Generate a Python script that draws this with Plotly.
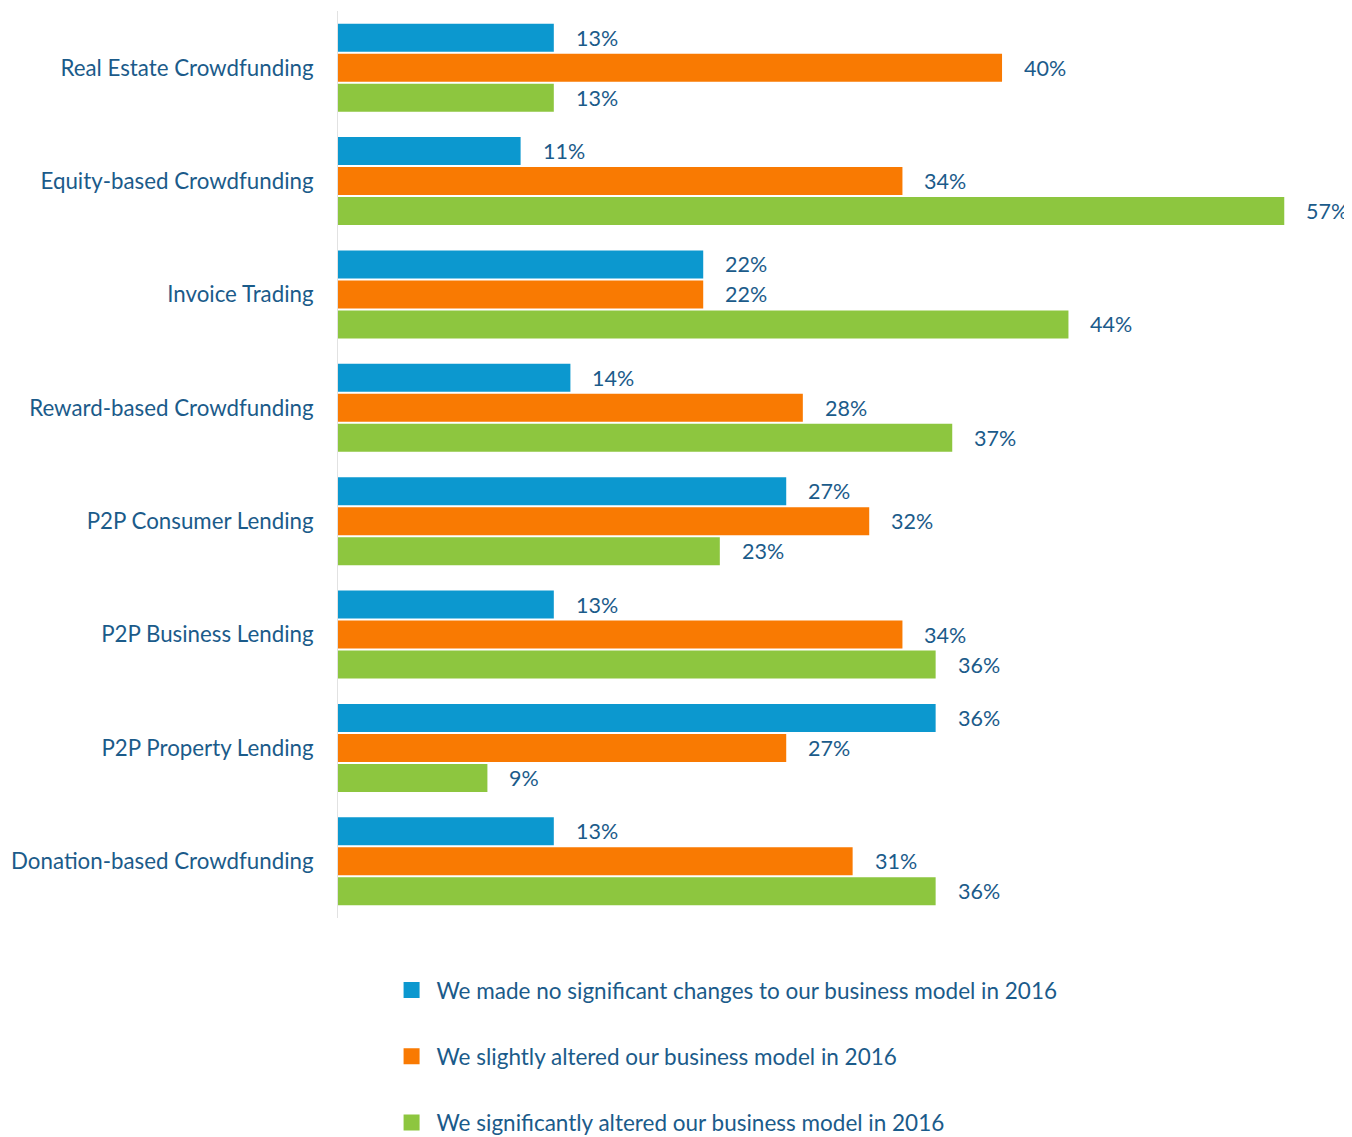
import plotly.graph_objects as go

categories = [
    "Real Estate Crowdfunding",
    "Equity-based Crowdfunding",
    "Invoice Trading",
    "Reward-based Crowdfunding",
    "P2P Consumer Lending",
    "P2P Business Lending",
    "P2P Property Lending",
    "Donation-based Crowdfunding",
]
no_change = [13, 11, 22, 14, 27, 13, 36, 13]
slightly = [40, 34, 22, 28, 32, 34, 27, 31]
significantly = [13, 57, 44, 37, 23, 36, 9, 36]

series_names = [
    "We made no significant changes to our business model in 2016",
    "We slightly altered our business model in 2016",
    "We significantly altered our business model in 2016",
]
series_values = [no_change, slightly, significantly]
colors = ["#0C98CF", "#F97A02", "#8DC63F"]
text_color = "#1B5B8A"
FONT = "Lato"

fig = go.Figure()
for i, (name, vals, col) in enumerate(zip(series_names, series_values, colors)):
    fig.add_trace(go.Bar(
        y=categories, x=vals, orientation="h", name=name,
        marker=dict(color=col, line=dict(width=0)),
        legendgroup=f"g{i}", showlegend=False,
        hoverinfo="x+y",
    ))
# legend entries with larger square swatches
for i, (name, col) in enumerate(zip(series_names, colors)):
    fig.add_trace(go.Scatter(
        x=[None], y=[None], mode="markers", name=name,
        marker=dict(symbol="square", size=20, color=col),
        legendgroup=f"g{i}", showlegend=True, hoverinfo="skip",
    ))

# value labels to the right of each bar
shifts = [-30, 0, 30]
for i, vals in enumerate(series_values):
    for cat, v in zip(categories, vals):
        fig.add_annotation(
            x=v, y=cat, text=f"{v}%", showarrow=False,
            xanchor="left", yanchor="middle", xshift=20, yshift=-shifts[i],
            font=dict(family=FONT, size=21.5, color=text_color),
        )

fig.update_layout(
    width=1344, height=1129,
    margin=dict(l=330, r=2, t=3, b=219, autoexpand=False),
    paper_bgcolor="white", plot_bgcolor="white",
    barmode="group", bargap=0.206, bargroupgap=0.067,
    font=dict(family=FONT, size=22.5, color=text_color),
    showlegend=True,
    legend=dict(
        x=0.048, y=-0.056, xanchor="left", yanchor="top",
        orientation="v", traceorder="grouped", tracegroupgap=34,
        itemwidth=40, itemsizing="trace",
        font=dict(family=FONT, size=22.5, color=text_color),
        bgcolor="rgba(0,0,0,0)",
    ),
    xaxis=dict(range=[0, 60.96], visible=False, showgrid=False, zeroline=False),
    yaxis=dict(
        categoryorder="array", categoryarray=categories,
        range=[7.5, -0.5], showgrid=False, zeroline=False,
        showline=True, linecolor="#E2E2E2", linewidth=1,
        ticks="", ticklabelstandoff=19, automargin=False,
        tickfont=dict(family=FONT, size=22.3, color=text_color),
    ),
)

fig.write_html("out.html")
